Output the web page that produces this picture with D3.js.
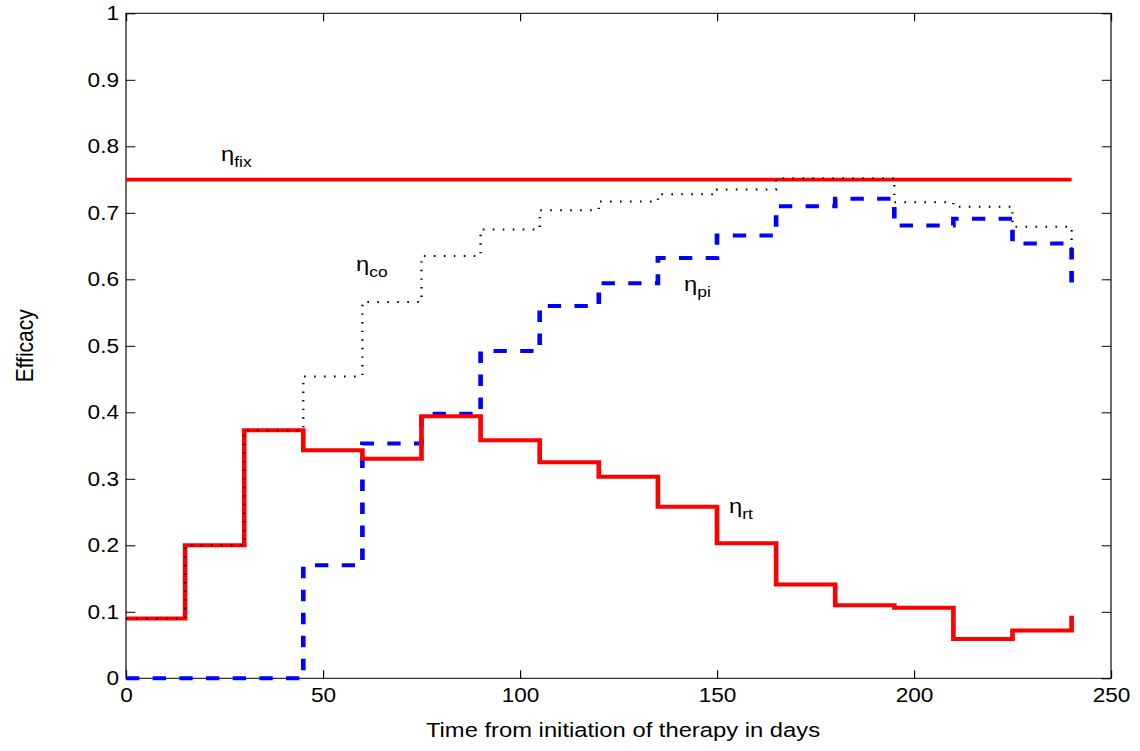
<!DOCTYPE html>
<html>
<head>
<meta charset="utf-8">
<script src="https://cdn.jsdelivr.net/npm/d3@7"></script>
<style>
  html, body { margin: 0; padding: 0; background: #fff; }
  svg { display: block; }
  text { font-family: "Liberation Sans", Arial, Helvetica, sans-serif; fill: #000; }
</style>
</head>
<body>
<svg id="chart" width="1140" height="751"></svg>
<script>
// Treatment days at which each efficacy value starts (15-day steps)
const days = [0, 15, 30, 45, 60, 75, 90, 105, 120, 135, 150, 165, 180, 195, 210, 225, 240];

// Efficacy of reverse-transcriptase inhibitor (eta_rt)
const etaRt = [0.09, 0.20, 0.373, 0.343, 0.330, 0.394, 0.358, 0.325, 0.303, 0.258, 0.203,
               0.141, 0.110, 0.106, 0.059, 0.072, 0.094];
// Efficacy of protease inhibitor (eta_pi)
const etaPi = [0, 0, 0, 0.170, 0.353, 0.398, 0.492, 0.560, 0.594, 0.632, 0.666,
               0.710, 0.721, 0.681, 0.691, 0.654, 0.595];
// Combined efficacy (eta_co)
const etaCo = [0.09, 0.20, 0.373, 0.454, 0.566, 0.635, 0.675, 0.704, 0.717, 0.728, 0.735,
               0.752, 0.752, 0.716, 0.709, 0.679, 0.635];
// Fixed efficacy (eta_fix)
const fixDays = [0, 240];
const etaFix = [0.75, 0.75];

const xTicks = [0, 50, 100, 150, 200, 250];
const yTicks = [0, 0.1, 0.2, 0.3, 0.4, 0.5, 0.6, 0.7, 0.8, 0.9, 1];
const yTickLabels = ["0", "0.1", "0.2", "0.3", "0.4", "0.5", "0.6", "0.7", "0.8", "0.9", "1"];

// Figure is laid out in a horizontally stretched frame
const sx = 1.16;
const svg = d3.select("#chart");
const g = svg.append("g").attr("transform", `scale(${sx},1)`);

const x = d3.scaleLinear().domain([0, 250]).range([126 / sx, 1111 / sx]);
const y = d3.scaleLinear().domain([0, 1]).range([678.3, 13.3]);

const tick = 8;

// Bottom axis with labels
const gx = g.append("g")
  .attr("transform", `translate(0,${y(0)})`)
  .call(d3.axisBottom(x).tickValues(xTicks).tickSizeInner(-tick).tickSizeOuter(0)
        .tickPadding(9.5).tickFormat(d3.format("d")));
// Top axis ticks only
const gxTop = g.append("g")
  .attr("transform", `translate(0,${y(1)})`)
  .call(d3.axisTop(x).tickValues(xTicks).tickSizeInner(-tick).tickSizeOuter(0).tickFormat(""));
// Left axis with labels
const gy = g.append("g")
  .attr("transform", `translate(${x(0)},0)`)
  .call(d3.axisLeft(y).tickValues(yTicks).tickSizeInner(-tick).tickSizeOuter(0)
        .tickPadding(6).tickFormat((d, i) => yTickLabels[i]));
// Right axis ticks only
const gyRight = g.append("g")
  .attr("transform", `translate(${x(250)},0)`)
  .call(d3.axisRight(y).tickValues(yTicks).tickSizeInner(-tick).tickSizeOuter(0).tickFormat(""));

[gx, gxTop, gy, gyRight].forEach(a => {
  a.select(".domain").remove();
  a.selectAll("line").attr("stroke", "#000").attr("stroke-width", 1);
  a.selectAll("text").attr("font-size", 19.5).attr("fill", "#000")
    .style("font-family", '"Liberation Sans", Arial, sans-serif');
});

// Plot box
g.append("rect")
  .attr("x", x(0)).attr("y", y(1))
  .attr("width", x(250) - x(0)).attr("height", y(0) - y(1))
  .attr("fill", "none").attr("stroke", "#000").attr("stroke-width", 1);

const stairs = xs => d3.line()
  .x((d, i) => x(xs[i]))
  .y(d => y(d))
  .curve(d3.curveStepAfter);

// eta_fix
g.append("path").datum(etaFix)
  .attr("d", stairs(fixDays))
  .attr("fill", "none").attr("stroke", "#ff0000").attr("stroke-width", 3.8);

// eta_pi (dashed blue)
g.append("path").datum(etaPi)
  .attr("d", stairs(days))
  .attr("fill", "none").attr("stroke", "#0000ff").attr("stroke-width", 4)
  .attr("stroke-dasharray", "11.5,11.5");

// eta_rt (solid red)
g.append("path").datum(etaRt)
  .attr("d", stairs(days))
  .attr("fill", "none").attr("stroke", "#ff0000").attr("stroke-width", 4);

// eta_co (dotted black)
g.append("path").datum(etaCo)
  .attr("d", stairs(days))
  .attr("fill", "none").attr("stroke", "#000").attr("stroke-width", 2)
  .attr("stroke-dasharray", "1.4,7.2");

// Curve labels
const labels = [
  { sub: "fix", px: 221, py: 161 },
  { sub: "co",  px: 356, py: 271.5 },
  { sub: "pi",  px: 684, py: 291.5 },
  { sub: "rt",  px: 729, py: 513 }
];
labels.forEach(l => {
  const t = g.append("text")
    .attr("x", l.px / sx).attr("y", l.py)
    .attr("font-size", 20.5);
  t.append("tspan").text("η");
  t.append("tspan").attr("font-size", 15).attr("dy", 6).text(l.sub);
});

// Axis titles
g.append("text")
  .attr("x", 623 / sx).attr("y", 737)
  .attr("text-anchor", "middle")
  .attr("font-size", 20.5)
  .text("Time from initiation of therapy in days");

g.append("text")
  .attr("transform", `translate(${33 / sx},${(y(0) + y(1)) / 2}) rotate(-90)`)
  .attr("text-anchor", "middle")
  .attr("font-size", 21)
  .text("Efficacy");
</script>
</body>
</html>
